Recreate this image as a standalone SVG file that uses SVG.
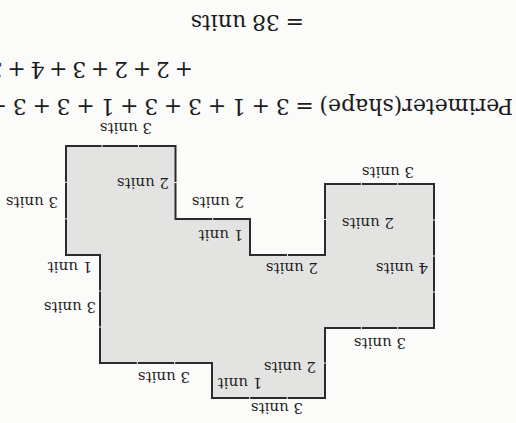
<svg xmlns="http://www.w3.org/2000/svg" width="516" height="423" viewBox="0 0 516 423">
<style>
.edge{fill:none;stroke:#2b2b2b;stroke-width:2;stroke-linecap:square}
.lbl{font-family:"DejaVu Serif",serif;font-size:15px;fill:#1e1e1e;text-anchor:middle}
.eq{font-family:"DejaVu Serif",serif;font-size:22px;fill:#1a1a1a;word-spacing:-1.3px}
</style>
<rect x="0" y="0" width="516" height="423" fill="#fbfbfa"/>
<g id="shape">
<polygon points="66,146 175.5,146 175.5,219 250,219 250,255 325,255 325,184 434,184 434,328 325,328 325,398 212,398 212,363 100,363 100,255 66,255" fill="#e3e4e2"/>
<path class="edge" d="M66,146H100.5M103.5,146H137M140,146H175.5
M175.5,146V181M175.5,184V219
M175.5,219H211.2M214.2,219H250
M250,219V255
M250,255H286M289,255H325
M325,255V221M325,218V184
M325,184H359.8M362.8,184H396.2M399.2,184H434
M434,184V218.5M434,221.5V254.5M434,257.5V290.5M434,293.5V328
M434,328H399.2M396.2,328H362.8M359.8,328H325
M325,328V361.5M325,364.5V398
M325,398H288.8M285.8,398H251.2M248.2,398H212
M212,398V363
M212,363H176.2M173.2,363H138.8M135.8,363H100
M100,363V328.5M100,325.5V292.5M100,289.5V255
M100,255H66
M66,255V220.2M66,217.2V183.8M66,180.8V146"/>
</g>
<g id="texts" transform="rotate(180 258 211.5)">
<text class="lbl" x="390" y="300.5">3 units</text>
<text class="lbl" x="484" y="226.5">3 units</text>
<text class="lbl" x="373" y="245.5">2 units</text>
<text class="lbl" x="298" y="226.5">2 units</text>
<text class="lbl" x="295" y="193.5">1 unit</text>
<text class="lbl" x="446" y="161.5">1 unit</text>
<text class="lbl" x="446" y="121.5">3 units</text>
<text class="lbl" x="352" y="51.5">3 units</text>
<text class="lbl" x="276" y="45.5">1 unit</text>
<text class="lbl" x="226" y="61.5">2 units</text>
<text class="lbl" x="239" y="20.5">3 units</text>
<text class="lbl" x="136" y="85.5">3 units</text>
<text class="lbl" x="114" y="160.5">4 units</text>
<text class="lbl" x="224" y="160.5">2 units</text>
<text class="lbl" x="148" y="205.5">2 units</text>
<text class="lbl" x="128" y="256.5">3 units</text>
<text class="eq" x="3" y="324">Perimeter(shape) = 3 + 1 + 3 + 3 + 1 + 3 + 3 +</text>
<text class="eq" x="323" y="361" style="word-spacing:-2.3px">+ 2 + 2 + 3 + 4 + 3</text>
<text class="eq" x="212" y="408">= 38 units</text>
</g>
</svg>
